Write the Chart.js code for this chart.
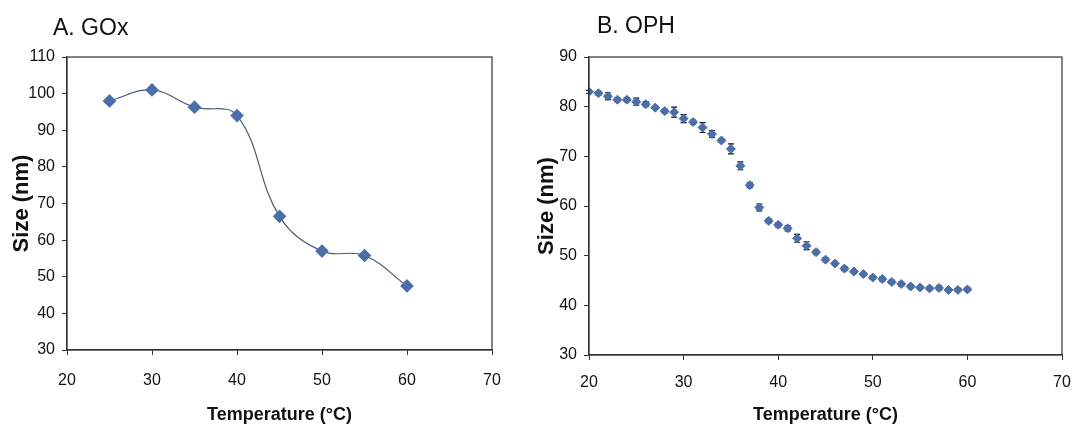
<!DOCTYPE html>
<html>
<head>
<meta charset="utf-8">
<script src="https://cdn.jsdelivr.net/npm/chart.js@4.4.1/dist/chart.umd.min.js"></script>
<style>
  html, body { margin: 0; padding: 0; background: #fff; }
  .panel { position: absolute; top: 0; height: 428px; }
  #boxA { left: 0; width: 530px; }
  #boxB { left: 530px; width: 542px; }
</style>
</head>
<body>
<div class="panel" id="boxA"><canvas id="goxChart"></canvas></div>
<div class="panel" id="boxB"><canvas id="ophChart"></canvas></div>
<script>
// panel A - GOx
const goxTemps = [25, 30, 35, 40, 45, 50, 55, 60];
const goxSize = [98, 101, 96.3, 94, 66.5, 57, 55.8, 47.5];
const goxYTicks = [30, 40, 50, 60, 70, 80, 90, 100, 110];

// panel B - OPH (1 degree steps)
const ophTemps = [20, 21, 22, 23, 24, 25, 26, 27, 28, 29, 30, 31, 32, 33, 34, 35, 36, 37, 38, 39, 40,
                  41, 42, 43, 44, 45, 46, 47, 48, 49, 50, 51, 52, 53, 54, 55, 56, 57, 58, 59, 60];
const ophSize = [83, 82.7, 82.1, 81.4, 81.4, 81, 80.5, 79.8, 79.1, 78.9, 77.6, 76.9, 75.8, 74.5, 73.2,
                 71.5, 68.1, 64.2, 59.7, 57, 56.2, 55.5, 53.5, 52, 50.7, 49.2, 48.4, 47.4, 46.8, 46.3,
                 45.6, 45.3, 44.7, 44.3, 43.8, 43.6, 43.4, 43.5, 43.1, 43.1, 43.2];
const ophErr = [0.3, 0.4, 0.7, 0.4, 0.4, 0.7, 0.5, 0.3, 0.4, 1.0, 0.8, 0.4, 1.0, 0.7, 0.3,
                1.0, 0.8, 0.5, 0.7, 0.4, 0.4, 0.5, 0.8, 0.8, 0.4, 0.4, 0.3, 0.4, 0.3, 0.3,
                0.4, 0.4, 0.4, 0.4, 0.3, 0.3, 0.3, 0.4, 0.3, 0.3, 0.3];
const ophYTicks = [30, 40, 50, 60, 70, 80, 90];

const xTicks = [20, 30, 40, 50, 60, 70];

const markerBlue = '#4a6ea8';
const fontFam = '"Liberation Sans", Arial, sans-serif';

// box around plot area + panel title
const frame = {
  id: 'frame',
  afterDraw(chart, args, opts) {
    const {ctx, chartArea: a} = chart;
    ctx.save();
    ctx.strokeStyle = '#333';
    ctx.lineWidth = 1.2;
    ctx.strokeRect(a.left, a.top, a.right - a.left, a.bottom - a.top);
    ctx.fillStyle = '#111';
    ctx.font = '23px ' + fontFam;
    ctx.textBaseline = 'alphabetic';
    ctx.fillText(opts.text, opts.x, opts.y);
    ctx.restore();
  }
};

// error bars for OPH, from the data arrays via the chart scales
const errorBars = {
  id: 'errorBars',
  beforeDatasetsDraw(chart) {
    const {ctx, scales: {x, y}} = chart;
    ctx.save();
    ctx.strokeStyle = '#111';
    ctx.lineWidth = 1.2;
    ophTemps.forEach((t, i) => {
      const px = x.getPixelForValue(t);
      const hi = y.getPixelForValue(ophSize[i] + ophErr[i]);
      const lo = y.getPixelForValue(ophSize[i] - ophErr[i]);
      ctx.beginPath();
      ctx.moveTo(px, hi); ctx.lineTo(px, lo);
      ctx.moveTo(px - 3, hi); ctx.lineTo(px + 3, hi);
      ctx.moveTo(px - 3, lo); ctx.lineTo(px + 3, lo);
      ctx.stroke();
    });
    ctx.restore();
  }
};

function axes(yTicks, yWidth, xHeight, xPad, yTitlePad) {
  return {
    x: {
      type: 'linear', min: 20, max: 70,
      afterBuildTicks: s => { s.ticks = xTicks.map(v => ({value: v})); },
      // fixed height, and let the last label hang past the right edge
      afterFit: s => { s.height = xHeight; s.paddingRight = 0; },
      grid: { drawOnChartArea: false, drawTicks: true, tickLength: 5, color: '#333' },
      border: { color: '#333', width: 1.2 },
      ticks: { color: '#111', padding: xPad, font: { family: fontFam, size: 16 } },
      title: { display: true, text: 'Temperature (°C)', color: '#111', padding: { top: 0, bottom: 2 },
               font: { family: fontFam, size: 18, weight: 'bold' } }
    },
    y: {
      type: 'linear', min: yTicks[0], max: yTicks[yTicks.length - 1],
      afterBuildTicks: s => { s.ticks = yTicks.map(v => ({value: v})); },
      afterFit: s => { s.width = yWidth; },
      grid: { drawOnChartArea: false, drawTicks: true, tickLength: 5, color: '#333' },
      border: { color: '#333', width: 1.2 },
      ticks: { color: '#111', padding: 7, font: { family: fontFam, size: 16 } },
      title: { display: true, text: 'Size (nm)', color: '#111', padding: { top: yTitlePad, bottom: 0 },
               font: { family: fontFam, size: 22, weight: 'bold' } }
    }
  };
}

new Chart(document.getElementById('goxChart'), {
  type: 'line',
  data: {
    datasets: [{
      data: goxTemps.map((t, i) => ({x: t, y: goxSize[i]})),
      borderColor: '#4a5a72',
      borderWidth: 1.2,
      tension: 0.4,
      pointStyle: 'rectRot',
      pointRadius: 6,
      pointBackgroundColor: markerBlue,
      pointBorderColor: markerBlue
    }]
  },
  options: {
    responsive: true,
    maintainAspectRatio: false,
    animation: false,
    layout: { padding: { left: 0, top: 57, right: 38, bottom: 0 } },
    scales: axes(goxYTicks, 67, 78, 16, 9),
    plugins: { legend: { display: false }, tooltip: { enabled: false },
               frame: { text: 'A. GOx', x: 53, y: 35 } }
  },
  plugins: [frame]
});

new Chart(document.getElementById('ophChart'), {
  type: 'line',
  data: {
    datasets: [{
      data: ophTemps.map((t, i) => ({x: t, y: ophSize[i]})),
      showLine: false,
      pointStyle: 'rectRot',
      pointRadius: 4.5,
      pointBackgroundColor: markerBlue,
      pointBorderColor: markerBlue
    }]
  },
  options: {
    responsive: true,
    maintainAspectRatio: false,
    animation: false,
    layout: { padding: { left: 0, top: 57, right: 10, bottom: 0 } },
    scales: axes(ophYTicks, 59, 73, 13, 4),
    plugins: { legend: { display: false }, tooltip: { enabled: false },
               frame: { text: 'B. OPH', x: 67, y: 33 } }
  },
  plugins: [frame, errorBars]
});
</script>
</body>
</html>
